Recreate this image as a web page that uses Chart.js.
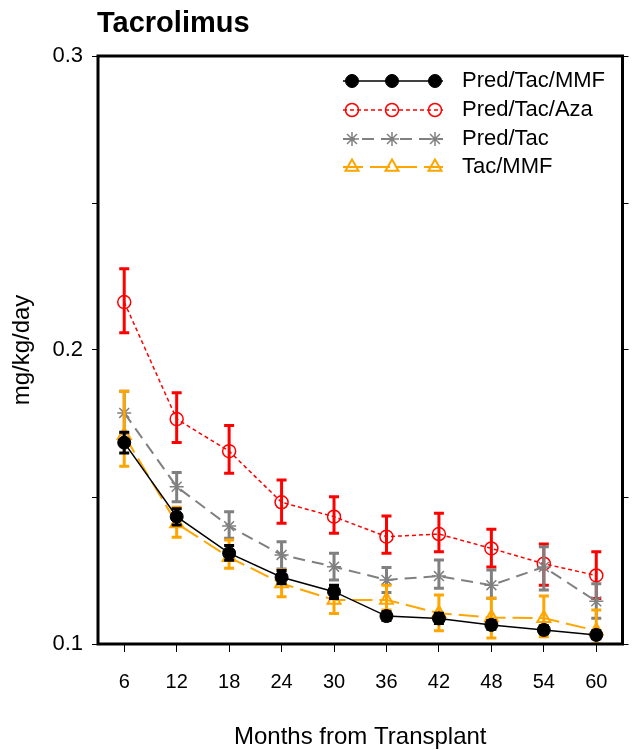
<!DOCTYPE html>
<html>
<head>
<meta charset="utf-8">
<title>Tacrolimus</title>
<script src="https://cdn.jsdelivr.net/npm/chart.js@4.4.1/dist/chart.umd.min.js"></script>
<style>
  body { margin: 0; background: #fff; }
  #wrap { width: 632px; height: 750px; }
</style>
</head>
<body>
<div id="wrap"><canvas id="tacChart" width="632" height="750"></canvas></div>
<script>
// Months from transplant (x categories)
const months = [6, 12, 18, 24, 30, 36, 42, 48, 54, 60];

// y axis tick values
const yTicks = [0.1, 0.15, 0.2, 0.25, 0.3];

// Pred/Tac/MMF
const predTacMmf = [0.1685, 0.1433, 0.1309, 0.1227, 0.1178, 0.1095, 0.1087, 0.1065, 0.1048, 0.1031];
const predTacMmfHi = [0.1720, 0.1460, 0.1335, 0.1250, 0.1200, 0.1110, 0.1105, 0.1080, 0.1062, 0.1045];
const predTacMmfLo = [0.1650, 0.1405, 0.1285, 0.1205, 0.1155, 0.1080, 0.1070, 0.1050, 0.1035, 0.1018];

// Pred/Tac/Aza
const predTacAza = [0.2163, 0.1765, 0.1656, 0.1482, 0.1433, 0.1365, 0.1374, 0.1325, 0.1273, 0.1233];
const predTacAzaHi = [0.2276, 0.1855, 0.1743, 0.1558, 0.1501, 0.1435, 0.1445, 0.1390, 0.1340, 0.1314];
const predTacAzaLo = [0.2059, 0.1685, 0.1581, 0.1411, 0.1377, 0.1309, 0.1314, 0.1262, 0.1200, 0.1155];

// Pred/Tac
const predTac = [0.1786, 0.1535, 0.1401, 0.1303, 0.1263, 0.1218, 0.1231, 0.1200, 0.1262, 0.1145];
const predTacHi = [0.1860, 0.1583, 0.1450, 0.1348, 0.1309, 0.1260, 0.1286, 0.1252, 0.1331, 0.1205];
const predTacLo = [0.1715, 0.1484, 0.1360, 0.1255, 0.1218, 0.1175, 0.1190, 0.1156, 0.1184, 0.1088];

// Tac/MMF
const tacMmf = [0.1710, 0.1410, 0.1295, 0.1206, 0.1150, 0.1150, 0.1105, 0.1090, 0.1088, 0.1045];
const tacMmfHi = [0.1860, 0.1465, 0.1354, 0.1252, 0.1195, 0.1200, 0.1167, 0.1156, 0.1163, 0.1116];
const tacMmfLo = [0.1605, 0.1363, 0.1258, 0.1161, 0.1104, 0.1116, 0.1045, 0.1020, 0.1025, 0.1000];

Chart.defaults.font.family = '"Liberation Sans", Arial, sans-serif';
Chart.defaults.color = "#000";

// error bars drawn just before each dataset so stacking matches the lines
const errorBars = {
  id: "errorBars",
  beforeDatasetDraw(chart, args) {
    const ds = chart.data.datasets[args.index];
    if (!ds.errHi) return;
    const ctx = chart.ctx;
    const yScale = chart.scales.y;
    const area = chart.chartArea;
    ctx.save();
    ctx.beginPath();
    ctx.rect(area.left, area.top, area.right - area.left, area.bottom - area.top);
    ctx.clip();
    ctx.strokeStyle = ds.borderColor;
    ctx.lineWidth = 3;
    args.meta.data.forEach((pt, i) => {
      const yHi = yScale.getPixelForValue(ds.errHi[i]);
      const yLo = yScale.getPixelForValue(ds.errLo[i]);
      ctx.beginPath();
      ctx.moveTo(pt.x, yHi);
      ctx.lineTo(pt.x, yLo);
      ctx.moveTo(pt.x - 5, yHi);
      ctx.lineTo(pt.x + 5, yHi);
      ctx.moveTo(pt.x - 5, yLo);
      ctx.lineTo(pt.x + 5, yLo);
      ctx.stroke();
    });
    ctx.restore();
  },
};

// frame, titles and the legend with three markers per row
const decorations = {
  id: "decorations",
  afterDraw(chart) {
    const ctx = chart.ctx;
    const area = chart.chartArea;
    ctx.save();
    ctx.strokeStyle = "#000";
    ctx.lineWidth = 3;
    ctx.strokeRect(area.left, area.top, area.right - area.left, area.bottom - area.top);

    ctx.fillStyle = "#000";
    ctx.textBaseline = "middle";
    ctx.textAlign = "left";
    ctx.font = 'bold 29px "Liberation Sans", Arial, sans-serif';
    ctx.fillText("Tacrolimus", 97, 24);

    ctx.textAlign = "center";
    ctx.font = '24px "Liberation Sans", Arial, sans-serif';
    ctx.fillText("Months from Transplant", (area.left + area.right) / 2, 737);

    ctx.save();
    ctx.translate(22, 350);
    ctx.rotate(-Math.PI / 2);
    ctx.fillText("mg/kg/day", 0, 0);
    ctx.restore();

    // legend
    const rowY = [81, 110, 139, 167];
    ctx.font = '22px "Liberation Sans", Arial, sans-serif';
    chart.data.datasets.forEach((ds, i) => {
      const y = rowY[i];
      ctx.save();
      ctx.strokeStyle = ds.borderColor;
      ctx.lineWidth = ds.borderWidth;
      ctx.setLineDash(ds.borderDash || []);
      ctx.beginPath();
      ctx.moveTo(343, y);
      ctx.lineTo(443, y);
      ctx.stroke();
      ctx.setLineDash([]);
      [352, 392, 435].forEach((x) => {
        ctx.fillStyle = ds.pointBackgroundColor;
        ctx.strokeStyle = ds.borderColor;
        ctx.lineWidth = ds.pointBorderWidth;
        Chart.helpers.drawPoint(ctx, {
          pointStyle: ds.pointStyle,
          radius: ds.pointRadius,
          rotation: 0,
          borderWidth: ds.pointBorderWidth,
        }, x, y);
      });
      ctx.restore();
      ctx.fillStyle = "#000";
      ctx.textAlign = "left";
      ctx.fillText(ds.label, 462, y);
    });
    ctx.restore();
  },
};

const ctx = document.getElementById("tacChart").getContext("2d");
new Chart(ctx, {
  type: "line",
  data: {
    labels: months,
    datasets: [
      {
        label: "Pred/Tac/MMF",
        data: predTacMmf,
        errHi: predTacMmfHi,
        errLo: predTacMmfLo,
        borderColor: "#000000",
        borderWidth: 1.5,
        pointStyle: "circle",
        pointRadius: 6.5,
        pointBackgroundColor: "#000000",
        pointBorderWidth: 1,
        order: 0,
      },
      {
        label: "Pred/Tac/Aza",
        data: predTacAza,
        errHi: predTacAzaHi,
        errLo: predTacAzaLo,
        borderColor: "#ff0000",
        borderWidth: 1.5,
        borderDash: [4, 3],
        pointStyle: "circle",
        pointRadius: 6.5,
        pointBackgroundColor: "rgba(0,0,0,0)",
        pointBorderWidth: 1.5,
        order: 3,
      },
      {
        label: "Pred/Tac",
        data: predTac,
        errHi: predTacHi,
        errLo: predTacLo,
        borderColor: "#808080",
        borderWidth: 2,
        borderDash: [12, 7],
        pointStyle: "star",
        pointRadius: 7,
        pointBackgroundColor: "rgba(0,0,0,0)",
        pointBorderWidth: 1.5,
        order: 2,
      },
      {
        label: "Tac/MMF",
        data: tacMmf,
        errHi: tacMmfHi,
        errLo: tacMmfLo,
        borderColor: "#ffa500",
        borderWidth: 2,
        borderDash: [20, 7],
        pointStyle: "triangle",
        pointRadius: 7.5,
        pointBackgroundColor: "rgba(0,0,0,0)",
        pointBorderWidth: 2,
        order: 1,
      },
    ],
  },
  options: {
    responsive: false,
    animation: false,
    layout: { padding: { top: 56, left: 0, right: 0, bottom: 0 } },
    plugins: {
      legend: { display: false },
      tooltip: { enabled: false },
    },
    elements: { line: { tension: 0 } },
    scales: {
      x: {
        type: "category",
        offset: true,
        grid: {
          drawOnChartArea: false,
          tickLength: 8,
          color: "#000",
          lineWidth: 1,
        },
        border: { display: false },
        ticks: { font: { size: 20 }, padding: 18, maxRotation: 0 },
        afterFit(scale) { scale.height = 106; },
      },
      y: {
        position: "left",
        min: 0.1,
        max: 0.3,
        afterBuildTicks(scale) { scale.ticks = yTicks.map((v) => ({ value: v })); },
        grid: {
          drawOnChartArea: false,
          tickLength: 6,
          color: "#000",
          lineWidth: 1,
        },
        border: { display: false },
        ticks: {
          font: { size: 22 },
          padding: 9,
          callback: (v) => ([0.1, 0.2, 0.3].some((t) => Math.abs(t - v) < 1e-9) ? v.toFixed(1) : ""),
        },
        afterFit(scale) { scale.width = 98; },
      },
      y2: {
        position: "right",
        min: 0.1,
        max: 0.3,
        afterBuildTicks(scale) { scale.ticks = yTicks.map((v) => ({ value: v })); },
        grid: {
          drawOnChartArea: false,
          tickLength: 6,
          color: "#000",
          lineWidth: 1,
        },
        border: { display: false },
        ticks: { display: false },
        afterFit(scale) { scale.width = 6; },
      },
    },
  },
  plugins: [errorBars, decorations],
});
</script>
</body>
</html>
